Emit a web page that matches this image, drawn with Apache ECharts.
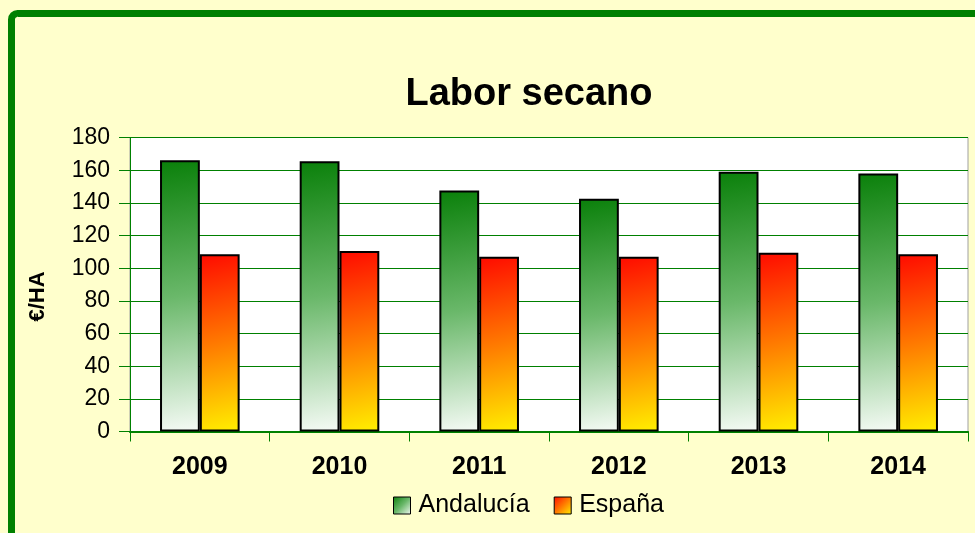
<!DOCTYPE html>
<html><head><meta charset="utf-8">
<script src="https://cdn.jsdelivr.net/npm/echarts@6/dist/echarts.min.js"></script>
<style>html,body{margin:0;padding:0;background:#ffffcc}#c{width:975px;height:533px}</style>
</head><body><div id="c"></div>
<script>
const categories = ['2009','2010','2011','2012','2013','2014'];
const andalucia = [166, 165.5, 147.5, 142.5, 159, 158];
const espana = [108.5, 110.5, 107, 107, 109.5, 108.5];
const yTicks = [0, 20, 40, 60, 80, 100, 120, 140, 160, 180];

const greenGrad = new echarts.graphic.LinearGradient(0, 0, 1, 1, [
  {offset: 0, color: '#0a800a'}, {offset: 0.5, color: '#6ab86a'}, {offset: 1, color: '#f6fbf6'}]);
const orangeGrad = new echarts.graphic.LinearGradient(0, 0, 1, 1, [
  {offset: 0, color: '#ff0a00'}, {offset: 0.5, color: '#ff7a00'}, {offset: 1, color: '#fff000'}]);

const chart = echarts.init(document.getElementById('c'), null, {renderer: 'canvas'});
chart.setOption({
  backgroundColor: '#ffffcc',
  animation: false,
  graphic: [{
    type: 'rect', z: -10, silent: true,
    shape: {x: 11.5, y: 13.5, width: 1100, height: 700, r: 6},
    style: {fill: '#ffffcc', stroke: '#008000', lineWidth: 7}
  }],
  title: {
    text: 'Labor secano', left: 529, top: 76, textAlign: 'center', padding: 0,
    textStyle: {fontFamily: 'Liberation Sans', fontSize: 38, fontWeight: 'bold', color: '#000'}
  },
  legend: {
    left: 393, top: 493, padding: 0, itemWidth: 17, itemHeight: 17, itemGap: 24,
    icon: 'rect',
    itemStyle: {borderColor: '#000', borderWidth: 1},
    textStyle: {fontFamily: 'Liberation Sans', fontSize: 25, color: '#000', padding: [0, 0, 0, 3]},
    data: ['Andalucía', 'España']
  },
  grid: {
    left: 130, top: 137.5, right: 7, bottom: 101.5,
    show: true, backgroundColor: '#ffffff', borderColor: '#a0a0a0', borderWidth: 1
  },
  xAxis: {
    type: 'category', data: categories,
    axisLine: {lineStyle: {color: '#008000', width: 2}},
    axisTick: {show: true, length: 10, lineStyle: {color: '#008000', width: 1}},
    axisLabel: {margin: 23, fontFamily: 'Liberation Sans', fontSize: 25, fontWeight: 'bold', color: '#000'}
  },
  yAxis: {
    type: 'value', min: yTicks[0], max: yTicks[yTicks.length - 1], interval: 20,
    name: '€/HA', nameLocation: 'middle', nameGap: 81,
    nameTextStyle: {fontFamily: 'Liberation Sans', fontSize: 22, fontWeight: 'bold', color: '#000', padding: [0, 24, 0, 0]},
    axisLine: {show: true, lineStyle: {color: '#008000', width: 1}},
    axisTick: {show: true, length: 11, lineStyle: {color: '#008000'}},
    splitLine: {show: true, lineStyle: {color: '#008000', width: 1}},
    axisLabel: {margin: 20, fontFamily: 'Liberation Sans', fontSize: 23, color: '#000'}
  },
  series: [
    {name: 'Andalucía', type: 'bar', data: andalucia, barGap: '0%', barCategoryGap: '43%',
     itemStyle: {color: greenGrad, borderColor: '#000', borderWidth: 2}},
    {name: 'España', type: 'bar', data: espana,
     itemStyle: {color: orangeGrad, borderColor: '#000', borderWidth: 2}}
  ]
});
</script></body></html>
